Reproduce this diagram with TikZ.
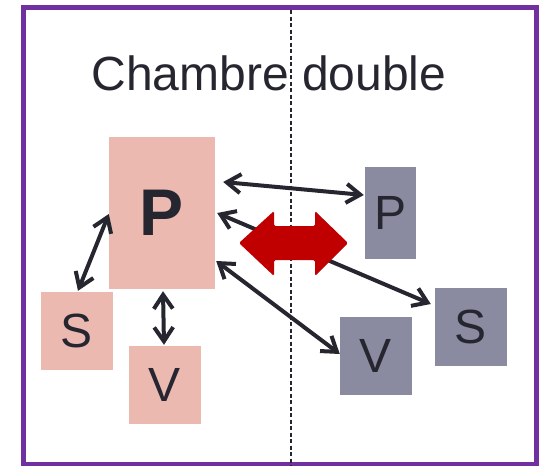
\documentclass[tikz,border=0pt]{standalone}
\usepackage{fontspec}
\setmainfont{Liberation Sans}
\usetikzlibrary{arrows.meta}
\definecolor{pinkbox}{RGB}{235,185,176}
\definecolor{greybox}{RGB}{138,138,160}
\definecolor{ink}{RGB}{38,38,49}
\definecolor{framepurple}{RGB}{112,48,160}
\definecolor{bigred}{RGB}{192,0,0}
\tikzset{
  pbox/.style={fill=pinkbox, draw=none, inner sep=0pt, text=ink, font=\fontsize{48}{56}\selectfont},
  gbox/.style={fill=greybox, draw=none, inner sep=0pt, text=ink, font=\fontsize{48}{56}\selectfont},
  link/.style={draw=ink, line width=4pt, {Straight Barb[length=14pt,width=19pt]}-{Straight Barb[length=14pt,width=19pt]}}
}
\begin{document}
\begin{tikzpicture}[x=1pt,y=-1pt]
\useasboundingbox (0,0) rectangle (539,466);
% frame
\draw[framepurple, line width=5pt] (23,7.5) rectangle (536.5,464);
% divider
\draw[ink, line width=1.5pt, dash pattern=on 4pt off 2.5pt] (291,10) -- (291,466);
% title
\node[anchor=base, text=ink, font=\fontsize{48}{56}\selectfont, inner sep=0pt] (title) at (269,90) {Chambre double};
% boxes
\node[pbox, minimum width=106pt, minimum height=152pt, font=\fontsize{66}{76}\selectfont\bfseries] (pP) at (162,213) {P};
\node[pbox, minimum width=72pt, minimum height=78pt] (pS) at (77,331) {S};
\node[pbox, minimum width=72pt, minimum height=78pt] (pV) at (165,385) {V};
\node[gbox, minimum width=51pt, minimum height=92pt] (gP) at (390.5,213) {P};
\node[gbox, minimum width=72pt, minimum height=78pt] (gS) at (471,327) {S};
\node[gbox, minimum width=72pt, minimum height=78pt] (gV) at (376,356) {V};
% connectors
\draw[link] ([shift={(8,-31)}]pP.east) -- ([shift={(-1,-18)}]gP.west);
\draw[link] ([shift={(2,0)}]pP.east) -- ([shift={(-4,-23)}]gS.west);
\draw[link] ([shift={(1,48)}]pP.east) -- ([shift={(0,-2)}]gV.west);
\draw[link] ([shift={(0,1)}]pP.west) -- ([shift={(1,-1)}]pS.north);
\draw[link] ([shift={(1,2)}]pP.south) -- ([shift={(-1,-1)}]pV.north);
% big red double arrow
\fill[bigred, rounded corners=1.5pt] (239,243) -- (274,211) -- (274,226) -- (315,226) -- (315,211) -- (348,243) -- (315,276) -- (315,260) -- (274,260) -- (274,276) -- cycle;
\end{tikzpicture}
\end{document}
